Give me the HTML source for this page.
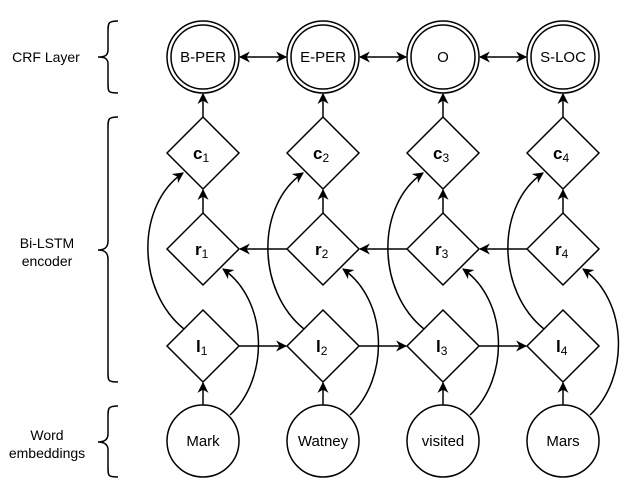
<!DOCTYPE html>
<html><head><meta charset="utf-8"><style>html,body{margin:0;padding:0;background:#fff}</style></head>
<body>
<svg width="622" height="486" viewBox="0 0 622 486" xmlns="http://www.w3.org/2000/svg" font-family="Liberation Sans, Arial, sans-serif">
<defs>
<marker id="a" viewBox="0 0 10 10" refX="9" refY="5" markerWidth="11" markerHeight="11" markerUnits="userSpaceOnUse" orient="auto-start-reverse">
<path d="M0,0 L10,5 L0,10 L3,5 z" fill="#000"/>
</marker>
</defs>
<g fill="none" stroke="#000" stroke-width="1.5">
<path d="M118,21 C108,21 108,23 108,32 L108,50 C108,56 104,57 98,57 C104,57 108,58 108,64 L108,83 C108,92 108,93 118,93"/>
<path d="M118,117 C108,117 108,119 108,128 L108,241 C108,248 104,250 98,250 C104,250 108,252 108,259 L108,372 C108,381 108,382 118,382"/>
<path d="M118,406 C108,406 108,408 108,417 L108,434 C108,440 104,442 98,442 C104,442 108,444 108,450 L108,467 C108,476 108,477 118,477"/>
</g>
<g font-size="14" text-anchor="middle" fill="#000">
<text x="46" y="62">CRF Layer</text>
<text x="47" y="248">Bi-LSTM</text>
<text x="47" y="266">encoder</text>
<text x="47" y="440">Word</text>
<text x="47" y="458">embeddings</text>
</g>
<g fill="none" stroke="#000" stroke-width="1.5">
<circle cx="203" cy="57" r="36"/><circle cx="203" cy="57" r="32"/>
<circle cx="323" cy="57" r="36"/><circle cx="323" cy="57" r="32"/>
<circle cx="443" cy="57" r="36"/><circle cx="443" cy="57" r="32"/>
<circle cx="563" cy="57" r="36"/><circle cx="563" cy="57" r="32"/>
<circle cx="203" cy="441" r="36"/>
<circle cx="323" cy="441" r="36"/>
<circle cx="443" cy="441" r="36"/>
<circle cx="563" cy="441" r="36"/>
<g id="col">
<path d="M203,117 L239,153 L203,189 L167,153 Z"/>
<path d="M203,213 L239,249 L203,285 L167,249 Z"/>
<path d="M203,310 L239,346 L203,382 L167,346 Z"/>
</g>
<use href="#col" x="120"/><use href="#col" x="240"/><use href="#col" x="360"/>
<g id="va" marker-end="url(#a)">
<line x1="203" y1="117" x2="203" y2="94"/>
<line x1="203" y1="213" x2="203" y2="190"/>
<line x1="203" y1="405" x2="203" y2="383"/>
<path d="M184,329 C136,290 136,205 183,173"/>
<path d="M230,415 C270,378 268,300 223,269"/>
</g>
<use href="#va" x="120"/><use href="#va" x="240"/><use href="#va" x="360"/>
<line x1="240" y1="57" x2="286" y2="57" marker-start="url(#a)" marker-end="url(#a)"/>
<line x1="360" y1="57" x2="406" y2="57" marker-start="url(#a)" marker-end="url(#a)"/>
<line x1="480" y1="57" x2="526" y2="57" marker-start="url(#a)" marker-end="url(#a)"/>
<line x1="239" y1="346" x2="286" y2="346" marker-end="url(#a)"/>
<line x1="359" y1="346" x2="406" y2="346" marker-end="url(#a)"/>
<line x1="479" y1="346" x2="526" y2="346" marker-end="url(#a)"/>
<line x1="287" y1="249" x2="240" y2="249" marker-end="url(#a)"/>
<line x1="407" y1="249" x2="360" y2="249" marker-end="url(#a)"/>
<line x1="527" y1="249" x2="480" y2="249" marker-end="url(#a)"/>
</g>
<g font-size="15" text-anchor="middle" fill="#000">
<text x="203" y="62">B-PER</text><text x="323" y="62">E-PER</text><text x="443" y="62">O</text><text x="563" y="62">S-LOC</text>
<text x="203" y="446">Mark</text><text x="323" y="446">Watney</text><text x="443" y="446">visited</text><text x="563" y="446">Mars</text>
</g>
<g font-size="17" font-weight="bold" fill="#000">
<text x="193" y="159">c<tspan font-size="12" font-weight="normal" dy="3">1</tspan></text>
<text x="313" y="159">c<tspan font-size="12" font-weight="normal" dy="3">2</tspan></text>
<text x="433" y="159">c<tspan font-size="12" font-weight="normal" dy="3">3</tspan></text>
<text x="553" y="159">c<tspan font-size="12" font-weight="normal" dy="3">4</tspan></text>
<text x="195" y="255">r<tspan font-size="12" font-weight="normal" dy="3">1</tspan></text>
<text x="315" y="255">r<tspan font-size="12" font-weight="normal" dy="3">2</tspan></text>
<text x="435" y="255">r<tspan font-size="12" font-weight="normal" dy="3">3</tspan></text>
<text x="555" y="255">r<tspan font-size="12" font-weight="normal" dy="3">4</tspan></text>
<text x="196" y="352">l<tspan font-size="12" font-weight="normal" dy="3">1</tspan></text>
<text x="316" y="352">l<tspan font-size="12" font-weight="normal" dy="3">2</tspan></text>
<text x="436" y="352">l<tspan font-size="12" font-weight="normal" dy="3">3</tspan></text>
<text x="556" y="352">l<tspan font-size="12" font-weight="normal" dy="3">4</tspan></text>
</g>
</svg>
</body></html>
